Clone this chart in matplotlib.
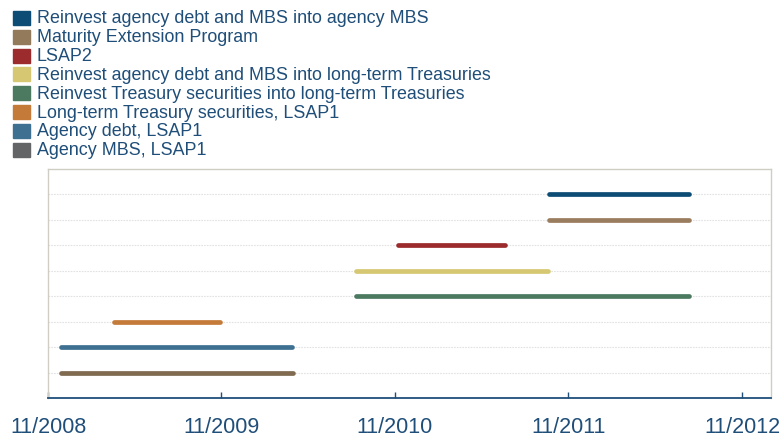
import datetime as dt
import matplotlib
matplotlib.use("Agg")
import matplotlib.pyplot as plt
from matplotlib.patches import Rectangle

plt.rcParams["font.family"] = ["Liberation Sans", "DejaVu Sans"]

# programs, top row first
programs = [
    "Reinvest agency debt and MBS into agency MBS",
    "Maturity Extension Program",
    "LSAP2",
    "Reinvest agency debt and MBS into long-term Treasuries",
    "Reinvest Treasury securities into long-term Treasuries",
    "Long-term Treasury securities, LSAP1",
    "Agency debt, LSAP1",
    "Agency MBS, LSAP1",
]
starts = ["2011-09-21", "2011-09-21", "2010-11-07", "2010-08-11", "2010-08-11",
          "2009-03-20", "2008-11-28", "2008-11-28"]
ends = ["2012-07-12", "2012-07-12", "2011-06-21", "2011-09-19", "2012-07-12",
        "2009-10-29", "2010-03-30", "2010-03-31"]
bar_colors = ["#0c4c75", "#9a7d5e", "#9b2b2c", "#d6c873", "#4b7a60",
              "#c47a38", "#3e7092", "#806a50"]
legend_colors = ["#0c4c75", "#937a5b", "#9b2b2c", "#d6c873", "#4b7a60",
                 "#c47a38", "#3e7092", "#636466"]
tick_dates = ["2008-11-01", "2009-11-01", "2010-11-01", "2011-11-01", "2012-11-01"]
tick_labels = ["11/2008", "11/2009", "11/2010", "11/2011", "11/2012"]

text_color = "#1f4e79"
W, H = 783, 439

fig = plt.figure(figsize=(W / 100, H / 100), dpi=100)
ax = fig.add_axes([48 / W, 1 - 399 / H, (771 - 48) / W, (399 - 170) / H])

to_date = lambda s: dt.datetime.strptime(s, "%Y-%m-%d")
n = len(programs)
for i, (s, e, c) in enumerate(zip(starts, ends, bar_colors)):
    y = n - i
    ax.axhline(y, color="#e2e2e2", lw=0.8, ls=(0, (1.5, 1)), zorder=1)
    ax.plot([to_date(s), to_date(e)], [y, y], color=c, lw=3.4,
            solid_capstyle="round", zorder=3)

ax.set_ylim(0, n + 1)
ax.set_xlim(to_date("2008-11-01"), to_date("2013-01-01"))
ax.set_yticks([])
ax.set_xticks([to_date(d) for d in tick_dates])
ax.set_xticklabels(tick_labels, fontsize=15.5, color=text_color)
ax.tick_params(axis="x", direction="in", length=4, width=1, color=text_color, pad=13)

for side in ["left", "top", "right"]:
    ax.spines[side].set_color("#cfcdc4")
    ax.spines[side].set_linewidth(1)
ax.spines["bottom"].set_color(text_color)
ax.spines["bottom"].set_linewidth(1.3)

# legend: colour squares with labels stacked at the top
for i, (label, c) in enumerate(zip(programs, legend_colors)):
    yc = 18.8 + i * 18.86
    fig.patches.append(Rectangle((13 / W, 1 - (yc + 7) / H), 17 / W, 14 / H,
                                 transform=fig.transFigure, color=c))
    fig.text(37 / W, 1 - yc / H, label, fontsize=12.9, color=text_color,
             va="center", ha="left")

fig.savefig("out.png", dpi=100)
